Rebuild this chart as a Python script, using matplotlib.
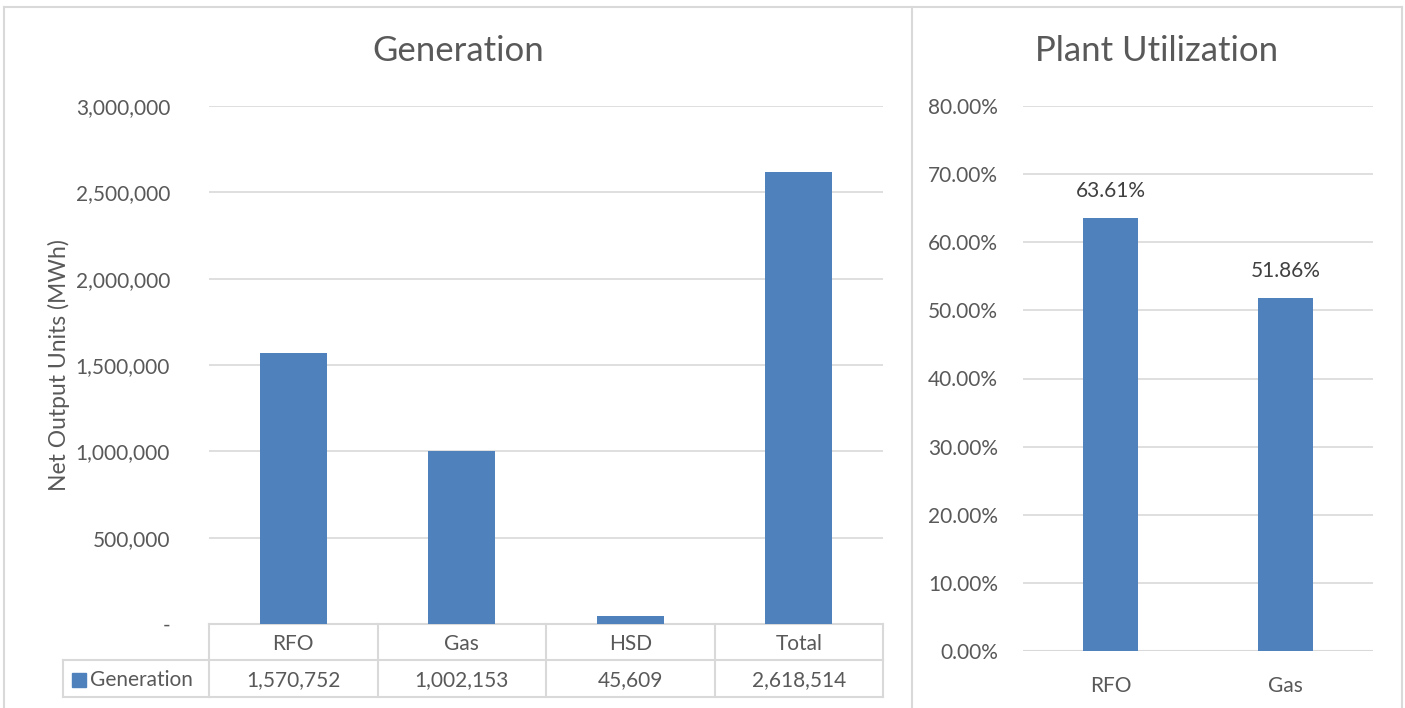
import matplotlib
matplotlib.use("Agg")
from matplotlib import pyplot as plt
from matplotlib.lines import Line2D
from matplotlib.transforms import blended_transform_factory

# data
gen_categories = ["RFO", "Gas", "HSD", "Total"]
gen_values = [1570752, 1002153, 45609, 2618514]
gen_ticks = [0, 500000, 1000000, 1500000, 2000000, 2500000, 3000000]
series_name = "Generation"

util_categories = ["RFO", "Gas"]
util_values = [63.61, 51.86]
util_ticks = [0, 10, 20, 30, 40, 50, 60, 70, 80]

BAR = "#4f81bd"
TXT = "#595959"
GRID = "#d9d9d9"
W, H = 1405, 708
FS = 15

plt.rcParams["font.family"] = ["Lato", "DejaVu Sans"]

fig = plt.figure(figsize=(W / 100, H / 100), dpi=100)

def fx(px):
    return px / W

def fy(py):
    return 1 - py / H

# outer borders and divider
for xs, ys in [([4, 4], [7, 708]), ([4, 1402], [7, 7]),
               ([1402, 1402], [7, 708]), ([911.5, 911.5], [7, 708])]:
    fig.add_artist(Line2D([fx(x) for x in xs], [fy(y) for y in ys],
                          color=GRID, lw=1.5))

# ---- Generation ----
ax1 = fig.add_axes([fx(209), fy(624), fx(883) - fx(209), fy(106) - fy(624)])
x1 = list(range(len(gen_categories)))
ax1.bar(x1, gen_values, width=0.4, color=BAR, zorder=3)
ax1.set_xlim(-0.5, len(gen_categories) - 0.5)
ax1.set_ylim(0, 3000000)
ax1.set_yticks(gen_ticks)
ax1.set_yticklabels(["-" if v == 0 else f"{v:,}" for v in gen_ticks])
ax1.set_xticks([])
ax1.grid(axis="y", color=GRID, lw=1.2, zorder=0)
for s in ax1.spines.values():
    s.set_visible(False)
ax1.tick_params(axis="y", length=0, pad=28, labelsize=FS, labelcolor=TXT)
ax1.set_ylabel("Net Output Units (MWh)", fontsize=16.5, color=TXT, labelpad=4)
fig.text(fx(458), fy(51), "Generation", ha="center", va="center",
         fontsize=25, color=TXT)

# data table under the axis
tr = blended_transform_factory(ax1.transData, fig.transFigure)
row_top, row_mid, row_bot = fy(624), fy(660), fy(697)
n = len(gen_categories)
for i in range(n + 1):
    ax1.add_line(Line2D([i - 0.5, i - 0.5], [row_top, row_bot], transform=tr,
                        color=GRID, lw=1.5, clip_on=False))
for yy in [row_top, row_mid, row_bot]:
    ax1.add_line(Line2D([-0.5, n - 0.5], [yy, yy], transform=tr,
                        color=GRID, lw=1.5, clip_on=False))
for i, (c, v) in enumerate(zip(gen_categories, gen_values)):
    ax1.text(i, (row_top + row_mid) / 2 - fx(0) - 2 / H, c, transform=tr,
             ha="center", va="center", fontsize=FS, color=TXT, clip_on=False)
    ax1.text(i, (row_mid + row_bot) / 2 - 2 / H, f"{v:,}", transform=tr,
             ha="center", va="center", fontsize=FS, color=TXT, clip_on=False)
# legend cell
fig.add_artist(Line2D([fx(63), fx(63)], [row_mid, row_bot], color=GRID, lw=1.5))
fig.add_artist(Line2D([fx(63), fx(209)], [row_mid, row_mid], color=GRID, lw=1.5))
fig.add_artist(Line2D([fx(63), fx(209)], [row_bot, row_bot], color=GRID, lw=1.5))
fig.patches.append(plt.Rectangle((fx(72), fy(687)), fx(14), fy(673) - fy(687),
                                 transform=fig.transFigure, color=BAR))
fig.text(fx(90), (row_mid + row_bot) / 2 - 2 / H, series_name, ha="left",
         va="center", fontsize=FS, color=TXT)

# ---- Plant Utilization ----
ax2 = fig.add_axes([fx(1023), fy(651), fx(1373) - fx(1023), fy(106) - fy(651)])
x2 = list(range(len(util_categories)))
ax2.bar(x2, util_values, width=0.31, color=BAR, zorder=3)
ax2.set_xlim(-0.5, len(util_categories) - 0.5)
ax2.set_ylim(0, 80)
ax2.set_yticks(util_ticks)
ax2.set_yticklabels([f"{v:.2f}%" for v in util_ticks])
ax2.set_xticks(x2)
ax2.set_xticklabels(util_categories)
ax2.grid(axis="y", color=GRID, lw=1.2, zorder=0)
for s in ax2.spines.values():
    s.set_visible(False)
ax2.axhline(0, color=GRID, lw=1.5, zorder=2)
ax2.tick_params(axis="y", length=0, pad=18, labelsize=FS, labelcolor=TXT)
ax2.tick_params(axis="x", length=0, pad=18, labelsize=FS, labelcolor=TXT)
for xi, v in zip(x2, util_values):
    ax2.annotate(f"{v:.2f}%", (xi, v), xytext=(0, 12), textcoords="offset points",
                 ha="center", va="bottom", fontsize=FS, color="#404040")
fig.text(fx(1157), fy(51), "Plant Utilization", ha="center", va="center",
         fontsize=25, color=TXT)

fig.savefig("out.png", dpi=100, facecolor="white")
